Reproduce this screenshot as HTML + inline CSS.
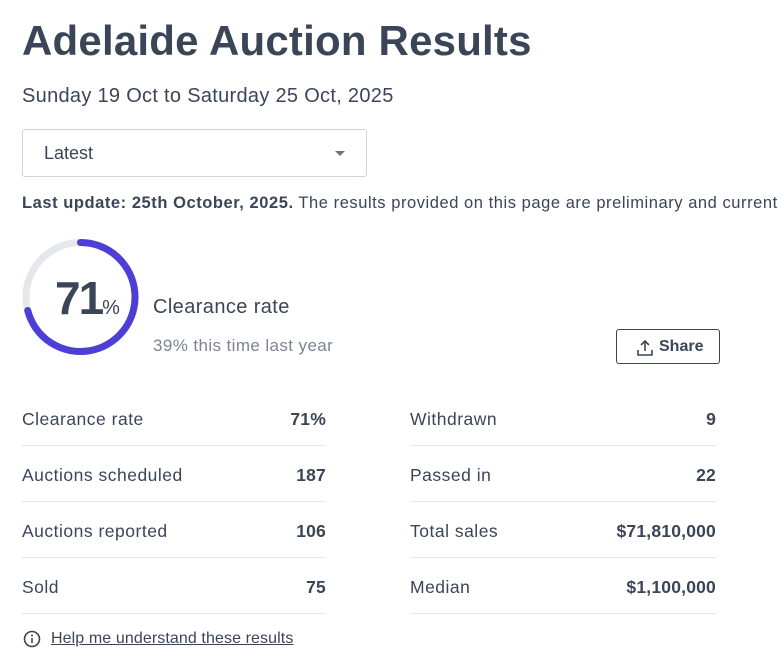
<!DOCTYPE html>
<html><head><meta charset="utf-8">
<style>
*{margin:0;padding:0;box-sizing:border-box}
body{width:784px;height:672px;overflow:hidden;background:#fff;font-family:"Liberation Sans",sans-serif;color:#3b4558;position:relative}
.abs{position:absolute;white-space:nowrap}
h1{position:absolute;left:22px;top:17px;font-size:42px;font-weight:bold;letter-spacing:0.2px;color:#3b4558;white-space:nowrap}
.row{position:absolute;height:56px;border-bottom:1px solid #e5e7eb;font-size:17.5px;letter-spacing:0.5px}
.row .l{position:absolute;left:0;top:19px}
.row .v{position:absolute;right:0;top:19px;font-weight:bold;letter-spacing:0.2px}
</style></head><body>
<h1>Adelaide Auction Results</h1>
<div class="abs" style="left:22px;top:85px;font-size:20px;letter-spacing:0.3px">Sunday 19 Oct to Saturday 25 Oct, 2025</div>
<div class="abs" style="left:22px;top:129px;width:345px;height:48px;border:1px solid #cfd3da;border-radius:3px">
  <span style="position:absolute;left:21px;top:13px;font-size:18px">Latest</span>
  <span style="position:absolute;right:21px;top:21px;width:0;height:0;border-left:5px solid transparent;border-right:5px solid transparent;border-top:5px solid #6b7280"></span>
</div>
<div class="abs" style="left:22px;top:194px;font-size:16.5px;letter-spacing:0.55px"><b>Last update: 25th October, 2025.</b> The results provided on this page are preliminary and current</div>

<svg id="ring" class="abs" style="left:0;top:220px" width="160" height="160"></svg>
<div class="abs" style="left:55px;top:271px;font-size:46px;font-weight:bold;letter-spacing:-2px"><span id="pct">71</span><span style="font-size:20px;font-weight:normal;letter-spacing:0">%</span></div>
<div class="abs" style="left:153px;top:296px;font-size:20px;letter-spacing:0.4px">Clearance rate</div>
<div class="abs" style="left:153px;top:336px;font-size:17px;letter-spacing:0.4px;color:#7c8494"><span id="ly">39</span>% this time last year</div>
<div class="abs" style="left:616px;top:329px;width:104px;height:35px;border:1px solid #3b4558;border-radius:3px;font-size:16px;font-weight:bold">
  <svg style="position:absolute;left:19px;top:9px" width="18" height="18" viewBox="0 0 18 18"><path d="M9 12V2M5 6l4-4 4 4M2 11v5h14v-5" fill="none" stroke="#3b4558" stroke-width="1.6"/></svg>
  <span style="position:absolute;left:42px;top:8px">Share</span>
</div>

<div class="row" style="left:22px;top:390px;width:304px"><span class="l">Clearance rate</span><span class="v">71%</span></div>
<div class="row" style="left:22px;top:446px;width:304px"><span class="l">Auctions scheduled</span><span class="v">187</span></div>
<div class="row" style="left:22px;top:502px;width:304px"><span class="l">Auctions reported</span><span class="v">106</span></div>
<div class="row" style="left:22px;top:558px;width:304px"><span class="l">Sold</span><span class="v">75</span></div>
<div class="row" style="left:410px;top:390px;width:306px"><span class="l">Withdrawn</span><span class="v">9</span></div>
<div class="row" style="left:410px;top:446px;width:306px"><span class="l">Passed in</span><span class="v">22</span></div>
<div class="row" style="left:410px;top:502px;width:306px"><span class="l">Total sales</span><span class="v">$71,810,000</span></div>
<div class="row" style="left:410px;top:558px;width:306px"><span class="l">Median</span><span class="v">$1,100,000</span></div>

<div class="abs" style="left:22px;top:628px;font-size:16px;letter-spacing:0.1px">
  <svg style="position:absolute;left:1px;top:2px" width="18" height="18" viewBox="0 0 18 18"><circle cx="9" cy="9" r="7.5" fill="none" stroke="#3b4558" stroke-width="1.6"/><rect x="8.2" y="8" width="1.6" height="5" fill="#3b4558"/><circle cx="9" cy="5.5" r="1" fill="#3b4558"/></svg>
  <span style="position:absolute;left:29px;top:2px;text-decoration:underline">Help me understand these results</span>
</div>

<script>
const clearance = 71;
const lastYear = 39;
const ring = document.getElementById('ring');
const cx = 80.5, cy = 77, r = 54.5, sw = 7;
const ns = 'http://www.w3.org/2000/svg';
const bg = document.createElementNS(ns, 'circle');


bg.setAttribute('cx', cx); bg.setAttribute('cy', cy); bg.setAttribute('r', r);
bg.setAttribute('fill', 'none'); bg.setAttribute('stroke', '#e5e7eb'); bg.setAttribute('stroke-width', sw);
ring.appendChild(bg);
const a = clearance / 100 * 2 * Math.PI;
const x2 = cx + r * Math.sin(a), y2 = cy - r * Math.cos(a);
const arc = document.createElementNS(ns, 'path');


arc.setAttribute('d', `M${cx} ${cy - r} A${r} ${r} 0 ${clearance > 50 ? 1 : 0} 1 ${x2} ${y2}`);
arc.setAttribute('fill', 'none'); arc.setAttribute('stroke', '#4d3fd6'); arc.setAttribute('stroke-width', sw); arc.setAttribute('stroke-linecap', 'round');
ring.appendChild(arc);
document.getElementById('pct').textContent = clearance;
document.getElementById('ly').textContent = lastYear;
</script>
</body></html>
